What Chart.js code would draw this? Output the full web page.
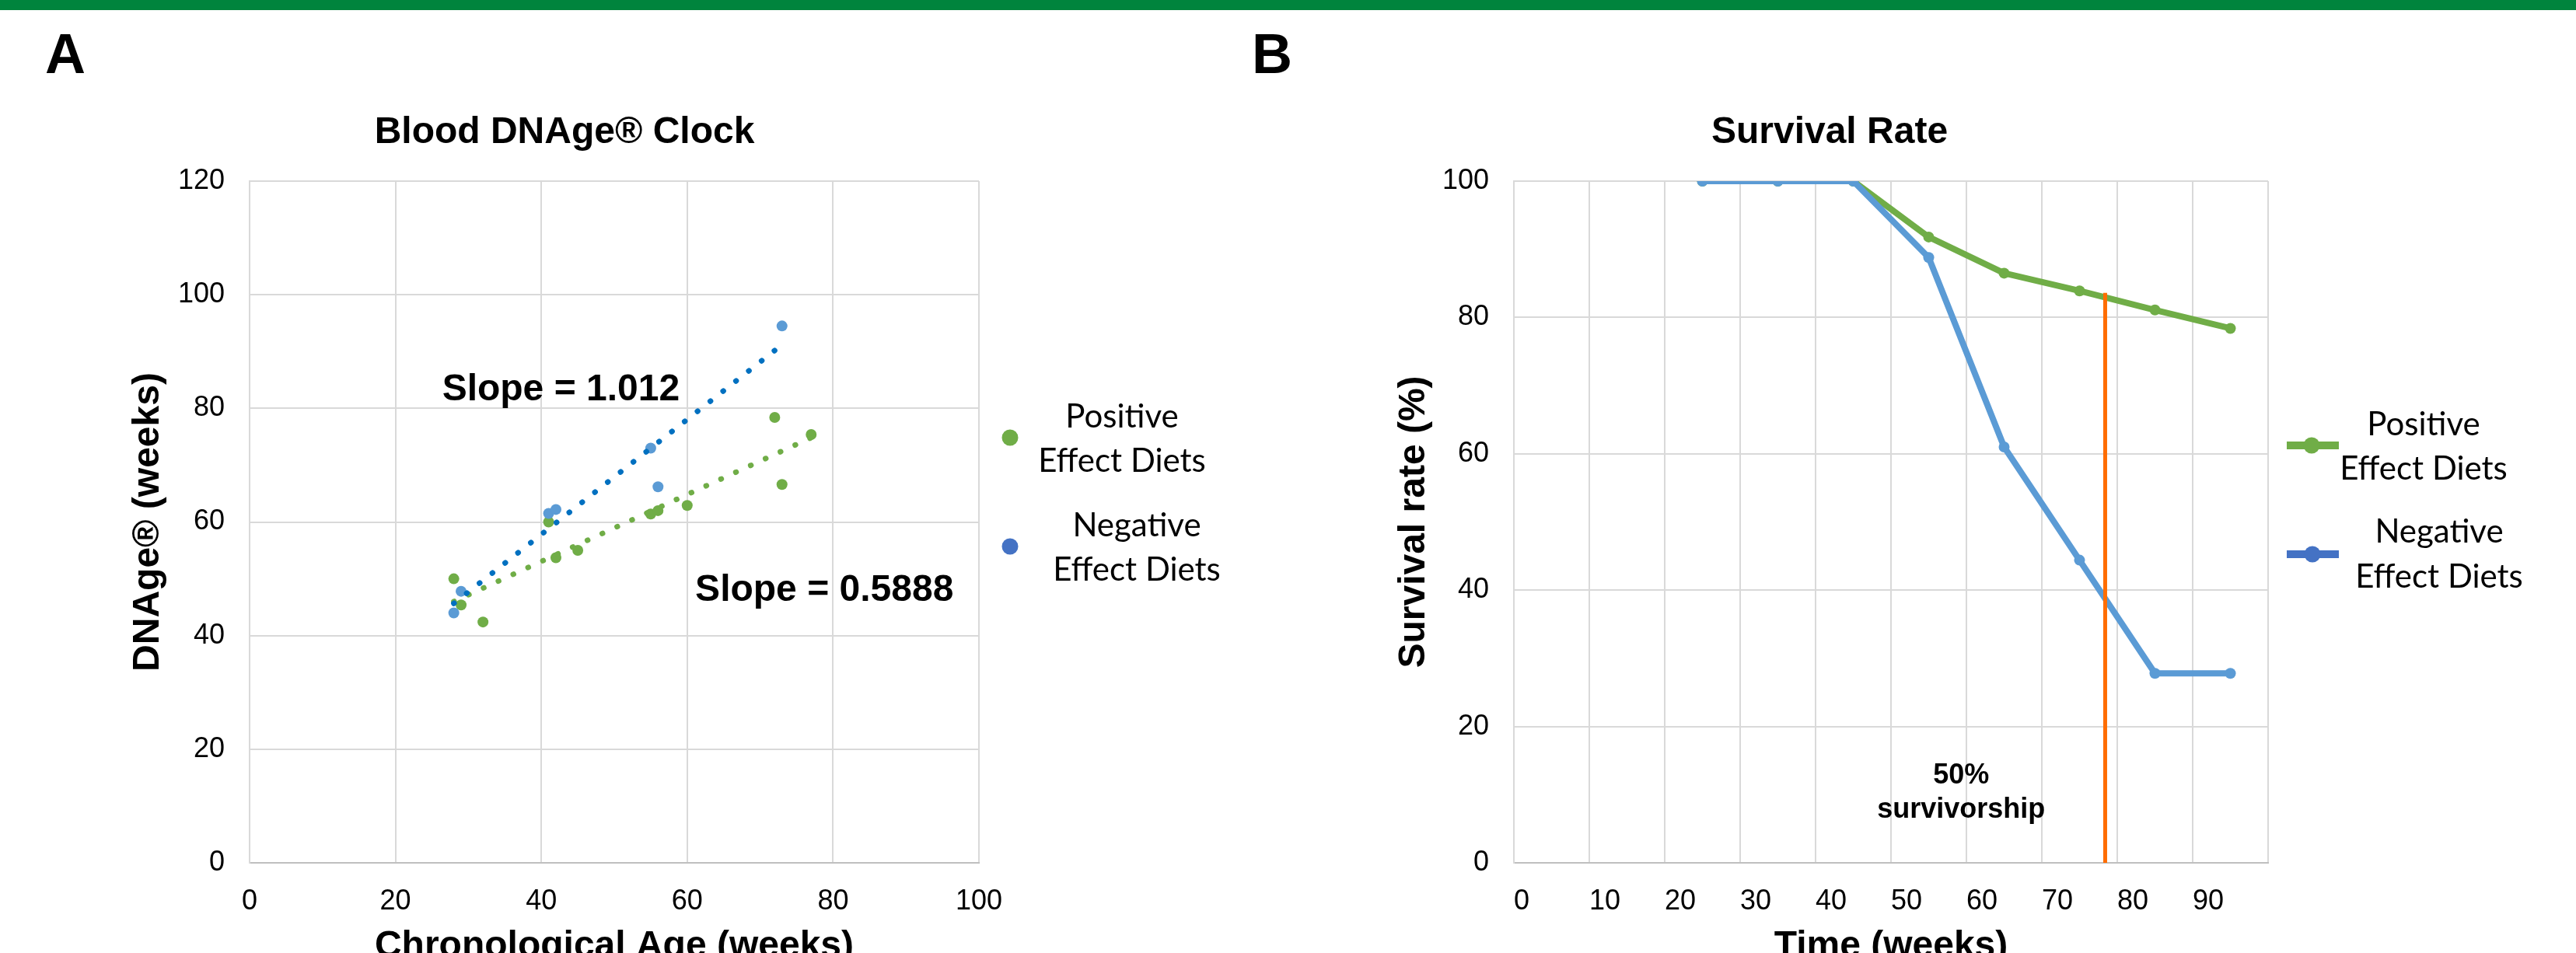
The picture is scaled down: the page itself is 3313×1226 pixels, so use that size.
<!DOCTYPE html>
<html><head><meta charset="utf-8">
<script src="https://cdn.jsdelivr.net/npm/chart.js@4.4.1/dist/chart.umd.min.js"></script>
<style>
html,body{margin:0;padding:0;width:3313px;height:1226px;overflow:hidden;background:#fff;}
#bar{position:absolute;left:0;top:0;width:3313px;height:13px;background:#00843D;}
.panel{position:absolute;font-family:"Liberation Sans",Arial,sans-serif;font-weight:bold;font-size:72px;line-height:72px;color:#000;}
canvas{position:absolute;top:0;}
</style></head><body>
<div id="bar"></div>
<div class="panel" style="left:58px;top:33px">A</div>
<div class="panel" style="left:1610px;top:33px">B</div>
<canvas id="cA" width="1640" height="1250" style="left:0"></canvas>
<canvas id="cB" width="1673" height="1250" style="left:1640px"></canvas>
<script>
// ---------- data ----------
const seriesNames = ['Positive Effect Diets', 'Negative Effect Diets'];
const legendLines = [['Positive', 'Effect Diets'], ['Negative', 'Effect Diets']];

// Panel A: Blood DNAge Clock
const posAgeX = [28, 29, 32, 41, 42, 45, 55, 56, 60, 72, 73, 77];
const posAgeY = [50, 45.4, 42.4, 60, 53.7, 55, 61.4, 62, 62.9, 78.4, 66.6, 75.4];
const negAgeX = [28, 29, 41, 42, 55, 56, 73];
const negAgeY = [44, 47.8, 61.5, 62.2, 73, 66.2, 94.5];
const trendSlopes = [0.5888, 1.012];
const slopeLabels = ['Slope = 0.5888', 'Slope = 1.012'];
const slopeLabelX = [61.1, 26.4];
const slopeLabelY = [46.1, 81.4];
const ageTicksX = [0, 20, 40, 60, 80, 100];
const ageTicksY = [0, 20, 40, 60, 80, 100, 120];

// Panel B: Survival Rate
const timeWeeks = [25, 35, 45, 55, 65, 75, 85, 95];
const survPositive = [100, 100, 100, 91.8, 86.5, 83.9, 81.1, 78.4];
const survNegative = [100, 100, 100, 88.8, 61, 44.4, 27.8, 27.8];
const markerX = [78.4, 78.4];
const markerY = [0, 83.6];
const noteLines = ['50%', 'survivorship'];
const noteX = [59.3, 59.3];
const noteY = [11.6, 6.6];
const timeTicksX = [0, 10, 20, 30, 40, 50, 60, 70, 80, 90, 100];
const timeTickLabels = ['0', '10', '20', '30', '40', '50', '60', '70', '80', '90', ''];
const timeTicksY = [0, 20, 40, 60, 80, 100];

// ---------- helpers ----------
const FONT = '"Liberation Sans", Arial, sans-serif';
const LEGFONT = 'Lato, "Open Sans", sans-serif';
const GREEN = '#70AD47', BLUE = '#5B9BD5', BLUE_LEG = '#4472C4', BLUE_TREND = '#0070C0', ORANGE = '#FF6D00';

function pts(xs, ys) { return xs.map((x, i) => ({x: x, y: ys[i]})); }
function trend(xs, ys, slope) {
  const mx = xs.reduce((a, b) => a + b, 0) / xs.length;
  const my = ys.reduce((a, b) => a + b, 0) / ys.length;
  const b = my - slope * mx;
  const x0 = Math.min(...xs), x1 = Math.max(...xs);
  return [{x: x0, y: slope * x0 + b}, {x: x1, y: slope * x1 + b}];
}
function fixedTicks(arr) { return function (s) { s.ticks = arr.map(v => ({value: v})); }; }

const sideLegend = {
  id: 'sideLegend',
  afterDraw(chart, args, opts) {
    const ctx = chart.ctx;
    ctx.save();
    ctx.font = opts.font;
    ctx.textAlign = 'center';
    ctx.textBaseline = 'alphabetic';
    opts.entries.forEach(e => {
      const ds = chart.data.datasets[e.dataset];
      if (opts.lineHalf) {
        ctx.strokeStyle = ds.legendColor;
        ctx.lineWidth = opts.lineWidth;
        ctx.lineCap = 'butt';
        ctx.beginPath();
        ctx.moveTo(e.lx - opts.lineHalf, e.my);
        ctx.lineTo(e.lx + opts.lineHalf, e.my);
        ctx.stroke();
      }
      ctx.fillStyle = ds.legendColor;
      ctx.beginPath();
      ctx.arc(e.mx, e.my, opts.r, 0, Math.PI * 2);
      ctx.fill();
      ctx.fillStyle = '#000';
      ds.legendLines.forEach((t, i) => ctx.fillText(t, e.tx, e.baselines[i]));
    });
    ctx.restore();
  }
};

const textNotes = {
  id: 'textNotes',
  afterDatasetsDraw(chart, args, opts) {
    const ctx = chart.ctx, xs = chart.scales.x, ys = chart.scales.y;
    ctx.save();
    ctx.font = opts.font;
    ctx.fillStyle = '#000';
    ctx.textAlign = opts.align;
    ctx.textBaseline = 'alphabetic';
    opts.texts.forEach((t, i) => ctx.fillText(t, xs.getPixelForValue(opts.xs[i]), ys.getPixelForValue(opts.ys[i])));
    ctx.restore();
  }
};

function baseOptions(o) {
  return {
    responsive: false, animation: false, devicePixelRatio: 1,
    layout: {padding: {left: o.padLeft, right: o.padRight, top: 0, bottom: 0}},
    plugins: {
      legend: {display: false}, tooltip: {enabled: false},
      title: {display: true, text: o.title, color: '#000',
        font: {family: FONT, size: 48, weight: 'bold', lineHeight: 1.2},
        padding: {top: 141.6, bottom: 33.8}},
      sideLegend: o.legend,
      textNotes: o.notes
    },
    scales: {
      x: {
        type: 'linear', min: o.xMin, max: o.xMax,
        afterBuildTicks: fixedTicks(o.xTicks),
        afterFit(s) { s.height = 140; },
        grid: {color: '#D9D9D9', lineWidth: 2, drawTicks: false},
        border: {color: '#BFBFBF', width: 2},
        ticks: {padding: 28, color: '#000', font: {family: FONT, size: 36}, autoSkip: false, maxRotation: 0,
          align: o.xAlign, callback: o.xCallback},
        title: {display: true, text: o.xTitle, color: '#000',
          font: {family: FONT, size: 48, weight: 'bold', lineHeight: 1.2}, padding: {top: 0, bottom: 3}}
      },
      y: {
        type: 'linear', min: o.yMin, max: o.yMax,
        afterBuildTicks: fixedTicks(o.yTicks),
        afterFit(s) { s.width = o.yWidth; },
        grid: {color: '#D9D9D9', lineWidth: 2, drawTicks: false},
        border: {color: '#D9D9D9', width: 2},
        ticks: {padding: 32, color: '#000', font: {family: FONT, size: 36}, autoSkip: false},
        title: {display: true, text: o.yTitle, color: '#000',
          font: {family: FONT, size: 48, weight: 'bold', lineHeight: 1.2}, padding: {top: o.yTitlePad, bottom: 0}}
      }
    }
  };
}

// ---------- Panel A ----------
new Chart(document.getElementById('cA'), {
  type: 'scatter',
  data: {
    datasets: [
      {label: seriesNames[1] + ' trend', type: 'line', data: trend(negAgeX, negAgeY, trendSlopes[1]),
        borderColor: BLUE_TREND, borderWidth: 7, borderDash: [0.5, 20.5], borderCapStyle: 'round',
        pointRadius: 0, fill: false, order: 0},
      {label: seriesNames[0] + ' trend', type: 'line', data: trend(posAgeX, posAgeY, trendSlopes[0]),
        borderColor: GREEN, borderWidth: 7, borderDash: [0.5, 20.5], borderCapStyle: 'round',
        pointRadius: 0, fill: false, order: 1},
      {label: seriesNames[1], data: pts(negAgeX, negAgeY), backgroundColor: BLUE, borderColor: BLUE,
        pointRadius: 7, pointBorderWidth: 0, legendLines: legendLines[1], legendColor: BLUE_LEG, order: 2},
      {label: seriesNames[0], data: pts(posAgeX, posAgeY), backgroundColor: GREEN, borderColor: GREEN,
        pointRadius: 7, pointBorderWidth: 0, legendLines: legendLines[0], legendColor: GREEN, order: 3}
    ]
  },
  options: baseOptions({
    padLeft: 193, padRight: 381, title: 'Blood DNAge® Clock',
    xMin: 0, xMax: 100, xTicks: ageTicksX, xAlign: 'center', xCallback: v => String(v),
    xTitle: 'Chronological Age (weeks)',
    yMin: 0, yMax: 120, yTicks: ageTicksY, yWidth: 128, yTitle: 'DNAge® (weeks)', yTitlePad: -30.8,
    legend: {font: '42px ' + LEGFONT, r: 10.5, lineHalf: 0,
      entries: [
        {dataset: 3, mx: 1299, my: 563, tx: 1443, baselines: [550, 607]},
        {dataset: 2, mx: 1299, my: 703, tx: 1462, baselines: [690, 747]}
      ]},
    notes: {font: 'bold 48px ' + FONT, align: 'left', texts: slopeLabels, xs: slopeLabelX, ys: slopeLabelY}
  }),
  plugins: [sideLegend, textNotes]
});

// ---------- Panel B ----------
new Chart(document.getElementById('cB'), {
  type: 'scatter',
  data: {
    datasets: [
      {label: '50% survivorship', data: pts(markerX, markerY), showLine: true, borderColor: ORANGE,
        borderWidth: 5, pointRadius: 0, borderCapStyle: 'butt', order: 0},
      {label: seriesNames[1], data: pts(timeWeeks, survNegative), showLine: true, borderColor: BLUE,
        backgroundColor: BLUE, borderWidth: 8, pointRadius: 7, pointBorderWidth: 0, borderJoinStyle: 'round',
        borderCapStyle: 'round', legendLines: legendLines[1], legendColor: BLUE_LEG, order: 1},
      {label: seriesNames[0], data: pts(timeWeeks, survPositive), showLine: true, borderColor: GREEN,
        backgroundColor: GREEN, borderWidth: 8, pointRadius: 7, pointBorderWidth: 0, borderJoinStyle: 'round',
        borderCapStyle: 'round', legendLines: legendLines[0], legendColor: GREEN, order: 2}
    ]
  },
  options: baseOptions({
    padLeft: 149, padRight: 396, title: 'Survival Rate',
    xMin: 0, xMax: 100, xTicks: timeTicksX, xAlign: 'start', xCallback: (v, i) => timeTickLabels[i],
    xTitle: 'Time (weeks)',
    yMin: 0, yMax: 100, yTicks: timeTicksY, yWidth: 158, yTitle: 'Survival rate (%)', yTitlePad: 1,
    legend: {font: '42px ' + LEGFONT, r: 10.5, lineHalf: 33.5, lineWidth: 10,
      entries: [
        {dataset: 2, lx: 1334.5, mx: 1333, my: 573, tx: 1477, baselines: [560, 617]},
        {dataset: 1, lx: 1334.5, mx: 1334, my: 713, tx: 1497, baselines: [698, 756]}
      ]},
    notes: {font: 'bold 36px ' + FONT, align: 'center', texts: noteLines, xs: noteX, ys: noteY}
  }),
  plugins: [sideLegend, textNotes]
});
</script>
</body></html>
